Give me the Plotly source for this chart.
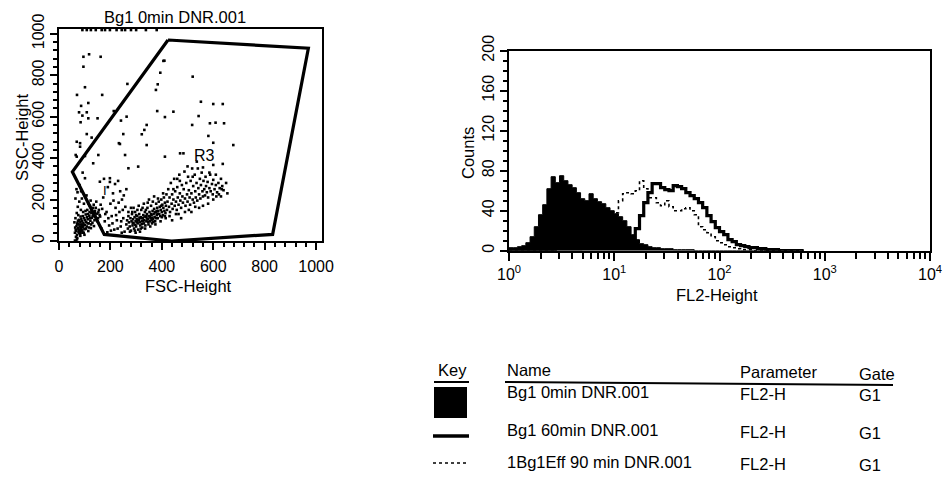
import plotly.graph_objects as go

W, H = 943, 478
FONT = "Liberation Sans, Arial, Helvetica, sans-serif"

# ---------------- scatter (FSC vs SSC) data ----------------
debris_fsc = [62, 65, 68, 70, 72, 74, 76, 78, 80, 82, 84, 86, 88, 90, 92, 94, 96, 98, 100, 102,
              104, 106, 108, 110, 112, 114, 116, 118, 120, 122, 124, 126, 128, 130, 132, 134, 136, 138, 140, 142,
              145, 148, 150, 152, 155, 158, 162, 60, 64, 66, 69, 71, 73, 75, 77, 79, 81, 83, 85, 87,
              89, 91, 93, 95, 97, 99, 101, 103, 105, 107, 109, 111, 113, 115, 117, 119, 121, 123, 125, 127,
              131, 135, 139, 143, 147, 153, 160, 68, 72, 80, 86, 64, 66, 70, 62,
              63, 67, 71, 75, 79, 83, 87, 91, 95, 99, 74, 78, 82, 86, 90]
debris_ssc = [40, 55, 72, 30, 88, 60, 45, 102, 70, 35, 118, 80, 52, 95, 66, 140, 40, 110, 78, 58,
              128, 92, 70, 150, 105, 48, 85, 122, 170, 98, 62, 135, 112, 88, 160, 125, 72, 100, 145, 118,
              190, 132, 95, 110, 150, 125, 175, 90, 110, 20, 135, 15, 165, 125, 80, 190, 55, 25, 150, 105,
              205, 40, 120, 75, 180, 30, 100, 145, 60, 220, 115, 85, 130, 180, 65, 140, 110, 195, 80, 150,
              120, 175, 135, 160, 110, 138, 118, 250, 235, 270, 240, 205, 0, 8, 2,
              65, 48, 82, 62, 38, 92, 68, 50, 86, 58, 98, 52, 44, 64, 78]

between_fsc = [165, 172, 178, 185, 190, 195, 200, 205, 210, 215, 220, 225, 230, 235, 240, 245, 250, 255, 258, 262,
               175, 188, 198, 212, 228, 238, 248, 180, 192, 208, 218, 232, 242, 252, 168, 202, 222, 244]
between_ssc = [60, 210, 95, 140, 260, 75, 180, 120, 230, 55, 160, 100, 290, 140, 70, 200, 110, 45, 165, 250,
               300, 42, 285, 195, 60, 240, 150, 130, 110, 85, 275, 185, 95, 220, 155, 50, 125, 40]

core_fsc = [262, 265, 268, 270, 272, 275, 278, 280, 282, 284, 286, 288, 290, 292, 294, 296, 298, 300, 302, 304,
            306, 308, 310, 312, 314, 316, 318, 320, 322, 324, 326, 328, 330, 332, 334, 336, 338, 340, 342, 344,
            346, 348, 350, 352, 354, 356, 358, 360, 362, 364, 366, 368, 370, 372, 374, 376, 378, 380, 382, 384,
            386, 388, 390, 392, 394, 396, 398, 400, 402, 404, 406, 408, 410, 412, 414, 416, 418, 420,
            285, 295, 305, 315, 325, 335, 345, 355, 365, 375, 385, 395, 405, 415, 290, 310, 330, 350, 370,
            300, 320, 340, 360, 380, 400, 270, 280, 276, 298, 318, 338, 358, 378, 398, 412,
            287, 303, 313, 327, 343, 353, 367, 383, 307, 323, 333, 347, 363, 373, 297]
core_ssc = [80, 100, 60, 120, 90, 70, 110, 50, 95, 130, 75, 105, 85, 60, 115, 140, 95, 70, 105, 120,
            85, 55, 100, 130, 90, 75, 115, 150, 95, 65, 110, 125, 85, 100, 140, 75, 115, 95, 130, 160,
            105, 80, 120, 140, 95, 110, 170, 125, 85, 145, 105, 130, 155, 115, 95, 140, 180, 125, 160, 110,
            145, 190, 130, 165, 120, 150, 200, 140, 175, 125, 160, 210, 145, 185, 135, 170, 225, 150,
            140, 50, 150, 45, 160, 60, 185, 70, 190, 80, 205, 95, 230, 110, 160, 170, 180, 200, 215,
            125, 110, 120, 100, 145, 115, 140, 160, 45, 40, 60, 150, 130, 110, 170, 120,
            88, 92, 112, 98, 108, 118, 92, 132, 102, 82, 118, 92, 112, 138, 78]

band_fsc = [422, 425, 428, 430, 432, 435, 438, 440, 442, 445, 448, 450, 452, 455, 458, 460, 462, 465, 468, 470,
            472, 475, 478, 480, 482, 485, 488, 490, 492, 495, 498, 500, 502, 505, 508, 510, 512, 515, 518, 520,
            522, 525, 528, 530, 532, 535, 538, 540, 542, 545, 548, 550, 552, 555, 558, 560, 562, 565, 568, 570,
            572, 575, 578, 580, 585, 588, 590, 595, 598, 600, 605, 610, 615, 620, 625, 630, 635, 640, 612, 622,
            545, 505, 465, 580, 560, 530, 490, 600, 470, 500, 520, 460, 445, 430, 440, 455, 475, 515, 560, 585,
            610, 650, 655, 630]
band_ssc = [190, 250, 165, 210, 140, 280, 180, 225, 155, 200, 300, 170, 240, 190, 150, 260, 210, 175, 320, 230,
            195, 160, 270, 215, 185, 250, 335, 205, 170, 280, 225, 190, 310, 245, 210, 175, 290, 230, 350, 200,
            265, 185, 320, 240, 210, 280, 195, 350, 255, 225, 300, 205, 270, 330, 240, 215, 290, 250, 220, 310,
            265, 235, 285, 210, 255, 320, 240, 275, 225, 295, 250, 270, 235, 280, 255, 300, 265, 245, 215, 225,
            160, 150, 130, 180, 170, 165, 140, 200, 290, 360, 310, 300, 250, 120, 100, 130, 110, 140, 355, 330,
            320, 280, 230, 215]

sparse_fsc = [95, 117, 162, 95, 101, 70, 168, 114, 86, 78, 108, 91, 114, 150, 84, 213, 266, 263, 241, 108,
              127, 69, 82, 250, 233, 322, 332, 341, 384, 377, 394, 410, 382, 412, 445, 518, 520,
              406, 552, 600, 543, 587, 609, 341, 237, 257, 412, 471, 536, 600, 678, 581, 484, 308, 270,
              198, 159, 101, 133, 153, 101, 82, 69, 600, 637, 633, 637, 642, 65, 92]
sparse_ssc = [889, 901, 889, 841, 742, 705, 705, 666, 652, 621, 621, 605, 592, 592, 573, 627, 758, 600, 581, 516,
              499, 479, 472, 516, 472, 515, 536, 560, 756, 729, 812, 870, 627, 598, 624, 560, 793,
              869, 672, 661, 603, 568, 571, 463, 468, 415, 407, 423, 383, 474, 463, 507, 423, 359, 351,
              303, 286, 303, 375, 415, 410, 455, 407, 367, 372, 250, 661, 568, 415, 330]

top_fsc = [91, 108, 124, 143, 166, 179, 198, 224, 244, 257, 280, 300, 338, 380]
top_ssc = [1018, 1018, 1018, 1018, 1018, 1018, 1018, 1018, 1018, 1018, 1018, 1018, 1018, 1018]

gate_fsc = [424, 970, 831, 438, 176, 52, 424]
gate_ssc = [970, 930, 32, 0, 32, 334, 970]

scatter_ticks = [0, 200, 400, 600, 800, 1000]

# ---------------- histogram data (FL2, decades) ----------------
fl2_decade = [0.00, 0.04, 0.08, 0.12, 0.16, 0.20, 0.24, 0.28, 0.32, 0.36, 0.40, 0.44, 0.48, 0.52, 0.56,
              0.60, 0.64, 0.68, 0.72, 0.76, 0.80, 0.84, 0.88, 0.92, 0.96, 1.00, 1.04, 1.08, 1.12, 1.16,
              1.20, 1.24, 1.28, 1.32, 1.36, 1.40, 1.44, 1.48, 1.52, 1.56, 1.60, 1.64, 1.68, 1.72, 1.76,
              1.80, 1.84, 1.88, 1.92, 1.96, 2.00, 2.04, 2.08, 2.12, 2.16, 2.20, 2.24, 2.28, 2.32, 2.36,
              2.40, 2.44, 2.48, 2.52, 2.56, 2.60, 2.64, 2.68, 2.72, 2.76, 2.80]
counts_0min = [3, 3, 4, 5, 8, 14, 24, 36, 46, 62, 74, 68, 75, 70, 66,
               63, 58, 52, 50, 57, 52, 49, 47, 43, 40, 37, 34, 30, 24, 16,
               11, 7, 6, 4, 3, 3, 2, 2, 2, 1, 1, 1, 1, 1, 0,
               0, 0, 0, 0, 0, 0, 0, 0, 0, 0, 0, 0, 0, 0, 0,
               0, 0, 0, 0, 0, 0, 0, 0, 0, 0, 0]
counts_60min = [1, 1, 1, 1, 1, 1, 1, 1, 1, 1, 1, 2, 2, 2, 2,
                2, 2, 3, 3, 3, 3, 3, 4, 4, 4, 5, 5, 6, 7, 10,
                22, 35, 48, 58, 67, 67, 63, 61, 60, 65, 64, 62, 58, 55, 52,
                48, 43, 35, 29, 23, 19, 16, 11, 9, 6, 5, 4, 3, 3, 2,
                2, 1, 1, 1, 0, 0, 0, 0, 0, 0, 0]
counts_90min = [1, 1, 1, 1, 1, 1, 1, 1, 1, 1, 1, 2, 2, 2, 2,
                3, 3, 4, 5, 7, 10, 15, 22, 30, 34, 38, 50, 57, 58, 57,
                60, 70, 62, 53, 53, 48, 45, 50, 44, 40, 40, 42, 43, 40, 36,
                24, 21, 18, 14, 10, 8, 6, 4, 3, 2, 1, 1, 1, 0, 0,
                0, 0, 0, 0, 0, 0, 0, 0, 0, 0, 0]

hist_major = [1, 10, 100, 1000, 10000]
hist_major_text = ["10<sup>0</sup>", "10<sup>1</sup>", "10<sup>2</sup>", "10<sup>3</sup>", "10<sup>4</sup>"]
hist_minor = [m * 10 ** d for d in range(4) for m in range(2, 10)]
count_ticks = [0, 40, 80, 120, 160, 200]

# ---------------- legend table ----------------
key_names = ["Bg1 0min DNR.001", "Bg1 60min DNR.001", "1Bg1Eff 90 min DNR.001"]
key_params = ["FL2-H", "FL2-H", "FL2-H"]
key_gates = ["G1", "G1", "G1"]


def px(x):
    return x / W


def py(y):
    return 1 - y / H


fig = go.Figure()

# scatter events
for xs, ys in [(debris_fsc, debris_ssc), (between_fsc, between_ssc), (core_fsc, core_ssc),
               (band_fsc, band_ssc), (sparse_fsc, sparse_ssc), (top_fsc, top_ssc)]:
    fig.add_trace(go.Scatter(x=xs, y=ys, mode="markers", xaxis="x", yaxis="y",
                             marker=dict(symbol="square", size=2.6, color="black", line=dict(width=0)),
                             showlegend=False, hoverinfo="skip"))

# gate polygon
fig.add_trace(go.Scatter(x=gate_fsc, y=gate_ssc, mode="lines", xaxis="x", yaxis="y",
                         line=dict(color="black", width=3.2), showlegend=False, hoverinfo="skip"))

# histograms
fl2 = [10 ** d for d in fl2_decade]
fig.add_trace(go.Scatter(x=fl2, y=counts_0min, mode="lines", xaxis="x2", yaxis="y2",
                         line=dict(color="black", width=1, shape="hv"), fill="tozeroy",
                         fillcolor="black", showlegend=False, hoverinfo="skip"))
fig.add_trace(go.Scatter(x=fl2, y=counts_60min, mode="lines", xaxis="x2", yaxis="y2",
                         line=dict(color="black", width=3.2, shape="hv"),
                         showlegend=False, hoverinfo="skip"))
fig.add_trace(go.Scatter(x=fl2, y=counts_90min, mode="lines", xaxis="x2", yaxis="y2",
                         line=dict(color="black", width=1.6, shape="hv", dash="dot"),
                         showlegend=False, hoverinfo="skip"))

tickfont = dict(family=FONT, size=16, color="black")

fig.update_layout(
    width=W, height=H,
    margin=dict(l=0, r=0, t=0, b=0, autoexpand=False),
    paper_bgcolor="white", plot_bgcolor="white",
    showlegend=False,
    font=dict(family=FONT, size=16, color="black"),
    xaxis=dict(domain=[px(59), px(322)], range=[0, 1023], anchor="y", showgrid=False, zeroline=False,
               showline=True, linecolor="black", linewidth=2, mirror=True,
               tickmode="array", tickvals=scatter_ticks, ticks="outside", ticklen=7, tickwidth=2,
               tickcolor="black", tickfont=tickfont, ticklabelstandoff=3,
               minor=dict(dtick=40, tick0=0, ticks="outside", ticklen=4, tickwidth=1.5, tickcolor="black")),
    yaxis=dict(domain=[py(241), py(29)], range=[0, 1023], anchor="x", showgrid=False, zeroline=False,
               showline=True, linecolor="black", linewidth=2, mirror=True,
               tickmode="array", tickvals=scatter_ticks, ticks="outside", ticklen=7, tickwidth=2,
               tickcolor="black", tickfont=tickfont, tickangle=-90,
               minor=dict(dtick=40, tick0=0, ticks="outside", ticklen=4, tickwidth=1.5, tickcolor="black")),
    xaxis2=dict(domain=[px(509), px(930)], type="log", range=[0, 4], anchor="y2",
                showgrid=False, zeroline=False,
                showline=True, linecolor="black", linewidth=2, mirror=True,
                tickmode="array", tickvals=hist_major, ticktext=hist_major_text,
                ticks="outside", ticklen=8, tickwidth=2, tickcolor="black", tickfont=tickfont,
                minor=dict(tickmode="array", tickvals=hist_minor, ticks="outside", ticklen=6,
                           tickwidth=1.5, tickcolor="black")),
    yaxis2=dict(domain=[py(250.7), py(50.7)], range=[0, 200], anchor="x2",
                showgrid=False, zeroline=False,
                showline=True, linecolor="black", linewidth=2, mirror=True,
                tickmode="array", tickvals=count_ticks, ticks="outside", ticklen=7, tickwidth=2,
                tickcolor="black", tickfont=tickfont, tickangle=-90,
                minor=dict(dtick=10, tick0=0, ticks="outside", ticklen=4, tickwidth=1.5, tickcolor="black")),
)

ann = []


def text(x, y, s, xanchor="center", yanchor="middle", angle=0, size=16.5):
    ann.append(dict(x=px(x), y=py(y), xref="paper", yref="paper", text=s, showarrow=False,
                    xanchor=xanchor, yanchor=yanchor, textangle=angle,
                    font=dict(family=FONT, size=size, color="black")))


# scatter labels
text(175, 17, "Bg1 0min DNR.001")
text(188, 286, "FSC-Height")
text(22, 137, "SSC-Height", angle=-90)
ann.append(dict(x=564, y=415, xref="x", yref="y", text="R3", showarrow=False,
                font=dict(family=FONT, size=16, color="black")))
ann.append(dict(x=180, y=246, xref="x", yref="y", text="I", showarrow=False,
                font=dict(family=FONT, size=13, color="black")))

# histogram labels
text(717, 295, "FL2-Height")
text(468, 153, "Counts", angle=-90)

# legend table header
text(452, 370, "Key")
text(505, 370, "Name", xanchor="left")
text(738, 372, "Parameter", xanchor="left")
text(857, 374, "Gate", xanchor="left")

row_y = [392, 430, 462]
for i in range(3):
    text(505, row_y[i], key_names[i], xanchor="left")
    text(738, row_y[i] + 2, key_params[i], xanchor="left")
    text(857, row_y[i] + 3, key_gates[i], xanchor="left")

fig.update_layout(annotations=ann)

shapes = [
    dict(type="line", xref="paper", yref="paper", x0=px(434), x1=px(469), y0=py(382), y1=py(382),
         line=dict(color="black", width=2)),
    dict(type="line", xref="paper", yref="paper", x0=px(505), x1=px(893), y0=py(382), y1=py(385),
         line=dict(color="black", width=2)),
    dict(type="rect", xref="paper", yref="paper", x0=px(434), x1=px(467), y0=py(418), y1=py(387),
         fillcolor="black", line=dict(width=0)),
    dict(type="line", xref="paper", yref="paper", x0=px(433), x1=px(469), y0=py(436), y1=py(436),
         line=dict(color="black", width=3.5)),
    dict(type="line", xref="paper", yref="paper", x0=px(433), x1=px(469), y0=py(463), y1=py(463),
         line=dict(color="black", width=1.6, dash="dot")),
]
fig.update_layout(shapes=shapes)

fig.write_html("out.html", config={"displayModeBar": False},
               post_script="document.body.style.margin='0px';document.body.style.overflow='hidden';")
